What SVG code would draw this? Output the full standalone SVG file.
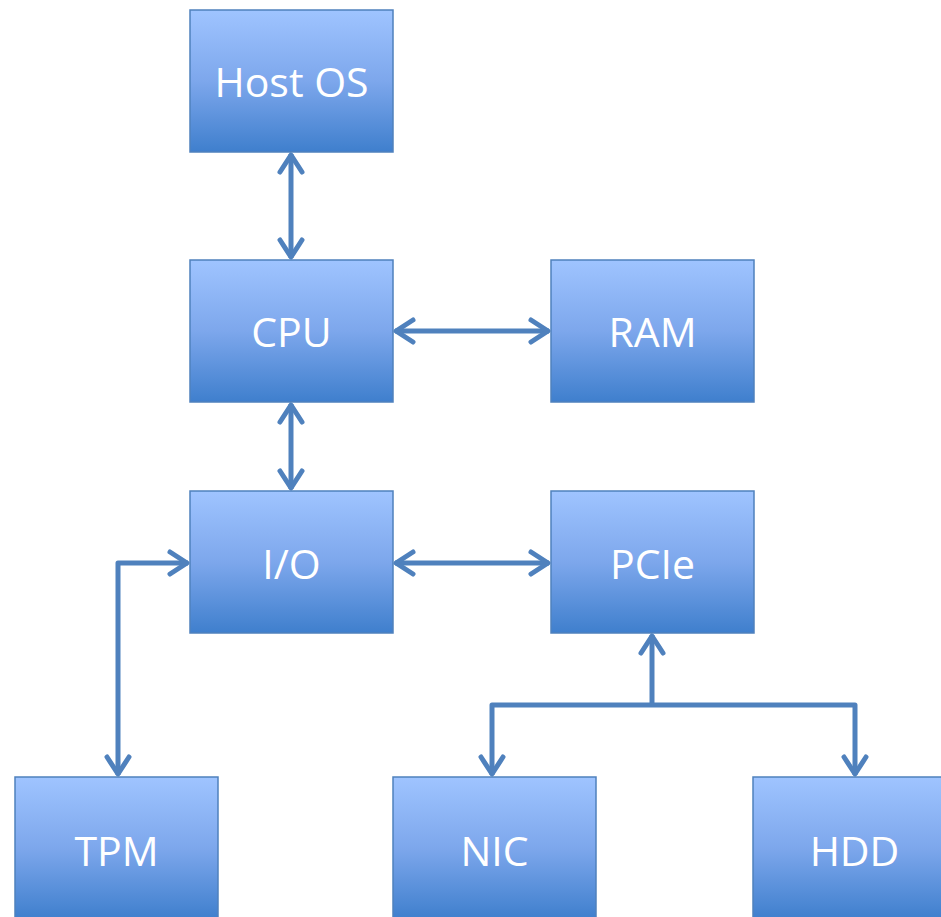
<svg xmlns="http://www.w3.org/2000/svg" width="941" height="917" viewBox="0 0 941 917">
  <style>
    .box rect { fill: url(#boxFill); stroke: #4F81BD; stroke-width: 1.5; }
    .box text { fill: #FFFFFF; font-family: "Open Sans", "Liberation Sans", sans-serif; font-size: 41px; text-anchor: middle; dominant-baseline: central; }
    .link { fill: none; stroke: #4F81BD; stroke-width: 5; stroke-linejoin: round; marker-start: url(#chev); marker-end: url(#chev); }
    .link.one { marker-start: none; }
  </style>
  <defs>
    <linearGradient id="boxFill" x1="0" y1="0" x2="0" y2="1">
      <stop offset="0" stop-color="#9FC4FF"/>
      <stop offset="0.5" stop-color="#7DA7EC"/>
      <stop offset="1" stop-color="#3F7FCD"/>
    </linearGradient>
    <!-- open chevron arrowhead, reused at either end of a link -->
    <marker id="chev" markerUnits="userSpaceOnUse" markerWidth="40" markerHeight="40" refX="0" refY="0" viewBox="-25 -20 30 40" orient="auto-start-reverse" overflow="visible">
      <path d="M-18,-11 L-1,0 L-18,11" fill="none" stroke="#4F81BD" stroke-width="5" stroke-linecap="round" stroke-linejoin="round"/>
    </marker>
  </defs>

  <g id="connectors">
    <path class="link" d="M291,154 L291,258"/>
    <path class="link" d="M395,331 L549,331"/>
    <path class="link" d="M291,404 L291,489"/>
    <path class="link" d="M395,563 L549,563"/>
    <path class="link" d="M188,563 L118,563 L118,775"/>
    <path class="link one" d="M652,705 L652,635"/>
    <path class="link" d="M492,775 L492,705 L855,705 L855,775"/>
  </g>

  <g id="host-os" class="box"><rect x="190" y="10" width="203" height="142"/><text x="291.5" y="81">Host OS</text></g>
  <g id="cpu" class="box"><rect x="190" y="260" width="203" height="142"/><text x="291.5" y="331">CPU</text></g>
  <g id="ram" class="box"><rect x="551" y="260" width="203" height="142"/><text x="652.5" y="331">RAM</text></g>
  <g id="io" class="box"><rect x="190" y="491" width="203" height="142"/><text x="291.5" y="563">I/O</text></g>
  <g id="pcie" class="box"><rect x="551" y="491" width="203" height="142"/><text x="652.5" y="563">PCIe</text></g>
  <g id="tpm" class="box"><rect x="15" y="777" width="203" height="142"/><text x="116.5" y="850">TPM</text></g>
  <g id="nic" class="box"><rect x="393" y="777" width="203" height="142"/><text x="494.5" y="850">NIC</text></g>
  <g id="hdd" class="box"><rect x="753" y="777" width="203" height="142"/><text x="854.5" y="850">HDD</text></g>
</svg>
